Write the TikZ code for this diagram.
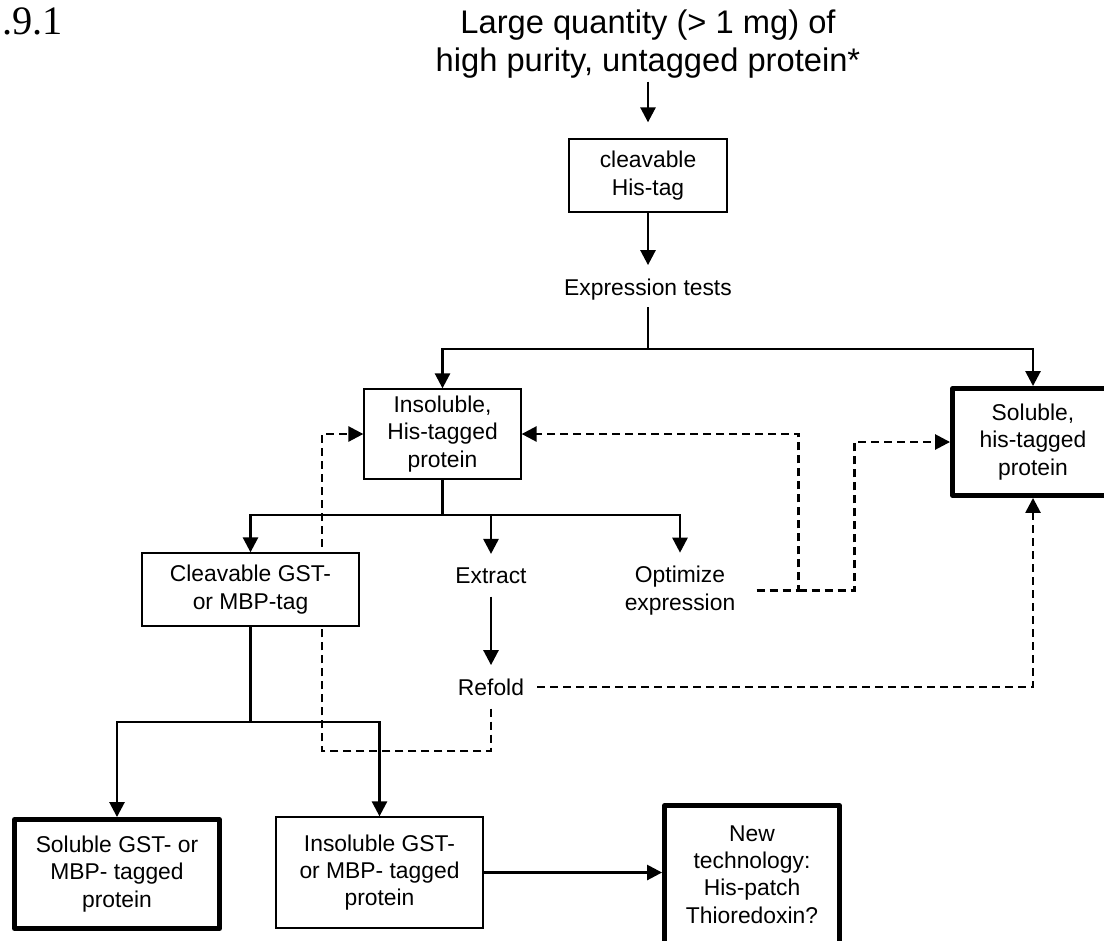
\documentclass[tikz,border=0pt]{standalone}
\usepackage{fontspec}
\setmainfont{Liberation Sans}
\newfontfamily\numfont{Liberation Serif}
\usetikzlibrary{arrows.meta, backgrounds}

\begin{document}
\begin{tikzpicture}[
    x=0.02cm, y=-0.02cm,
    every node/.style={font=\fontsize{13}{15.6}\selectfont},
    box/.style={draw, line width=0.75pt, fill=white, align=center, inner sep=2pt},
    goal/.style={box, line width=2.8pt, line join=round},
    stage/.style={align=center, inner sep=0.26cm, anchor=base},
    conn/.style={line width=1.5pt},
    arrow/.style={conn, -{Triangle[length=0.3cm, width=0.3cm]}},
    dashline/.style={line width=1.5pt, dash pattern=on 0.16cm off 0.1cm, -{Triangle[length=0.3cm, width=0.3cm]}}
  ]
    \useasboundingbox (0,0) rectangle (1104,940);

    % Section number (cut at the left edge)
    \node[anchor=base east, inner sep=0pt, font=\numfont\fontsize{23}{27}\selectfont] (secno) at (63,34) {0.9.1};

    % Start and His-tag stage
    \node[stage, inner sep=2pt, font=\fontsize{18.6}{21.5}\selectfont] (start) at (648,71) {Large quantity (> 1 mg) of\\high purity, untagged protein*};
    \node[box, minimum width=3.16cm, minimum height=1.46cm] (his) at (648,175.5) {cleavable\\His-tag};
    \node[stage] (expr) at (648,295) {Expression tests};

    % Outcomes of the expression tests
    \node[box, minimum width=3.14cm, minimum height=1.8cm] (ins) at (442.5,434) {Insoluble,\\His-tagged\\protein};
    \node[goal, minimum width=3.22cm, minimum height=2.14cm] (sol) at (1033,442) {Soluble,\\his-tagged\\protein};

    % Options for insoluble protein
    \node[box, minimum width=4.34cm, minimum height=1.46cm] (gst) at (250.5,589.5) {Cleavable GST-\\or MBP-tag};
    \node[stage] (extract) at (491,583) {Extract};
    \node[stage] (opt) at (680,610) {Optimize\\expression};
    \node[stage] (refold) at (491,695) {Refold};

    % Fusion tag results
    \node[goal, minimum width=4.1cm, minimum height=2.18cm] (solgst) at (117,874) {Soluble GST- or\\MBP- tagged\\protein};
    \node[box, minimum width=4.14cm, minimum height=2.22cm] (insgst) at (379.5,872.5) {Insoluble GST-\\or MBP- tagged\\protein};
    \node[goal, minimum width=3.5cm, minimum height=2.76cm] (newtech) at (752,874.5) {New\\technology:\\His-patch\\Thioredoxin?};

    % Branch points
    \coordinate (split1) at (648,349);
    \coordinate (split2) at (442.5,515);
    \coordinate (split3) at (250.5,722);
    \coordinate (fork) at ([xshift=1.0cm]opt.east);
    \coordinate (bend) at ([xshift=2.12cm]opt.east);

    % Solid connectors
    \draw[arrow, shorten >=0.32cm] (start.south) -- (his.north);
    \draw[arrow] (his.south) -- (expr.north);
    \draw[conn, shorten <=-0.12cm] (expr.south) -- (split1);
    \draw[arrow] (split1) -| (ins.north);
    \draw[arrow] (split1) -| (sol.north);
    \draw[conn] (ins.south) -- (split2);
    \foreach \target in {gst, extract, opt}
      \draw[arrow] (split2) -| (\target.north);
    \draw[arrow] (extract.south) -- (refold.north);
    \draw[conn] (gst.south) -- (split3);
    \draw[arrow] (split3) -| (solgst.north);
    \draw[arrow] (split3) -| (insgst.north);
    \draw[arrow] (insgst.east) -- (insgst.east -| newtech.west);

    % Dashed feedback paths
    \begin{pgfonlayer}{background}
      \draw[dashline] (refold.south) |- (322,751) |- (ins.west);
    \end{pgfonlayer}
    \draw[dashline] (refold.east) -| (sol.south);
    \draw[dashline, shorten <=0.16cm] (opt.east) -- (fork) |- (ins.east);
    \draw[dashline] (fork) -- (bend) |- (sol.west);

\end{tikzpicture}
\end{document}
